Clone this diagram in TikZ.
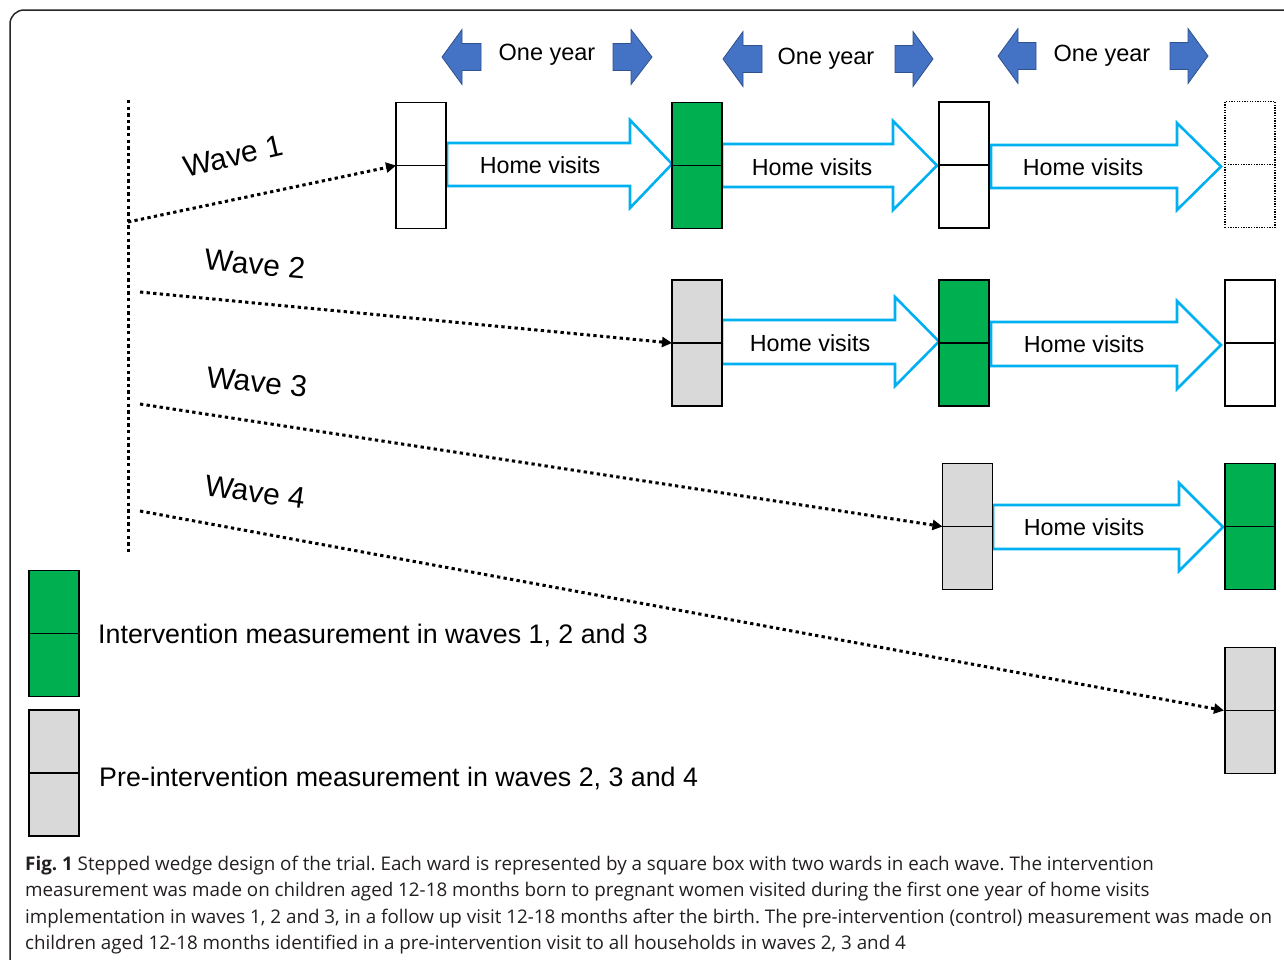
\documentclass[tikz,border=0pt]{standalone}
\usepackage{fontspec}
\setmainfont{Liberation Sans}
\newfontfamily\capfont{Open Sans}
\usetikzlibrary{arrows.meta}
\frenchspacing
\definecolor{grn}{HTML}{00B050}
\definecolor{gry}{HTML}{D9D9D9}
\definecolor{hvblue}{HTML}{00B0F0}
\definecolor{yrblue}{HTML}{4472C4}
\definecolor{yredge}{HTML}{2F528F}
\definecolor{captxt}{HTML}{231F20}
\newcommand\hvarr[7]{%
  \draw[hvstyle] (#1,#4) -- (#2,#4) -- (#2,#6) -- (#3,{(#6+#7)/2}) -- (#2,#7) -- (#2,#5) -- (#1,#5) -- cycle;}
\newcommand\yrleft[4]{%
  \draw[yrstyle] (#1,#4) -- (#2,#4-27.5) -- (#2,#4-13.5) -- (#3,#4-13.5) -- (#3,#4+13.5) -- (#2,#4+13.5) -- (#2,#4+27.5) -- cycle;}
\newcommand\yrright[4]{%
  \draw[yrstyle] (#1,#4) -- (#2,#4-27.5) -- (#2,#4-13.5) -- (#3,#4-13.5) -- (#3,#4+13.5) -- (#2,#4+13.5) -- (#2,#4+27.5) -- cycle;}
\begin{document}
\begin{tikzpicture}[x=1pt,y=-1pt,
  wbox/.style={draw=black, line width=1.3pt, minimum width=50pt, minimum height=126pt, inner sep=0pt, outer sep=0pt},
  dbox/.style={draw=black, line width=1.3pt, dash pattern=on 1.3pt off 1.3pt, minimum width=50pt, minimum height=126pt, inner sep=0pt, outer sep=0pt},
  hvstyle/.style={draw=hvblue, line width=2.6pt, fill=white, line join=miter},
  yrstyle/.style={draw=yredge, line width=0.8pt, fill=yrblue},
  hvtext/.style={font=\fontsize{23.3}{27}\selectfont, inner sep=0pt},
  yrtext/.style={font=\fontsize{23.5}{27}\selectfont, inner sep=0pt},
  wavetext/.style={font=\fontsize{30}{34}\selectfont, inner sep=0pt},
  legtext/.style={font=\fontsize{26.8}{30}\selectfont, inner sep=0pt, anchor=west},
  dotline/.style={line width=3pt, dash pattern=on 3.3pt off 3.3pt},
  dotarrow/.style={line width=3pt, dash pattern=on 3.3pt off 3.3pt, -{Triangle[length=10pt,width=10pt]}},
  captext/.style={font=\capfont\fontsize{18.8}{26}\selectfont, text=captxt, inner sep=0pt, anchor=base west}
]
\useasboundingbox (0,0) rectangle (1284,959);
\fill[white] (0,0) rectangle (1284,959);
% frame
\draw[line width=1.5pt, rounded corners=14pt, black!85] (1300,10) -- (10,10) -- (10,975);

% One year arrows
\yrleft{442}{462}{481}{57}
\yrright{652}{631}{613}{57}
\node[yrtext] (oy1) at (547,55) {One year};
\yrleft{723}{743}{762}{59}
\yrright{933}{913}{895}{59}
\node[yrtext] (oy2) at (826,59) {One year};
\yrleft{998}{1018}{1036}{56}
\yrright{1208}{1188}{1170}{56}
\node[yrtext] (oy3) at (1102,56) {One year};

% Home visits arrows (drawn first so boxes overlap)
\hvarr{447}{630}{672}{143}{186}{120}{208}
\node[hvtext] (hv1) at (540,165) {Home visits};
\hvarr{722}{893}{937}{144}{187}{121}{210}
\node[hvtext] (hv2) at (812,167) {Home visits};
\hvarr{991}{1177}{1221}{145}{188}{123}{210}
\node[hvtext] (hv3) at (1083,167) {Home visits};
\hvarr{722}{895}{939}{320}{364}{297}{386}
\node[hvtext] (hv4) at (810,343) {Home visits};
\hvarr{991}{1177}{1221}{322}{366}{301}{389}
\node[hvtext] (hv5) at (1084,344) {Home visits};
\hvarr{993}{1179}{1223}{505}{549}{483}{571}
\node[hvtext] (hv6) at (1084,527) {Home visits};

% boxes
\node[wbox, fill=white] (a1) at (421,165.5) {};
\node[wbox, fill=grn] (b1) at (697,165.5) {};
\node[wbox, fill=white] (c1) at (964,165) {};
\node[dbox] (d1) at (1250,164.5) {};
\node[wbox, fill=gry] (b2) at (697,343) {};
\node[wbox, fill=grn] (c2) at (964,343) {};
\node[wbox, fill=white] (d2) at (1250,343) {};
\node[wbox, fill=gry] (c3) at (967.5,526.5) {};
\node[wbox, fill=grn] (d3) at (1250,526.5) {};
\node[wbox, fill=gry] (d4) at (1250,710.5) {};
\node[wbox, fill=grn] (lg) at (54,633.5) {};
\node[wbox, fill=gry] (lp) at (54,773) {};
\foreach \n in {a1,b1,c1,b2,c2,d2,c3,d3,d4,lg,lp}{
  \draw[line width=1.3pt] (\n.west) -- (\n.east);
}
\draw[line width=1.3pt, dash pattern=on 1.3pt off 1.3pt] (d1.west) -- (d1.east);

% wave lines
\coordinate (vt) at (128,100);
\coordinate (vb) at (128,553);
\draw[dotline] (vt) -- (vb);
\coordinate (w1s) at (128,222);
\coordinate (w2s) at (140,292);
\coordinate (w3s) at (140,404);
\coordinate (w4s) at (140,511);
\draw[dotarrow] (w1s) -- (a1.west);
\draw[dotarrow] (w2s) -- (b2.west);
\draw[dotarrow] (w3s) -- (c3.west);
\draw[dotarrow] (w4s) -- ([xshift=-1pt]d4.west);

\node[wavetext, rotate=13] (wl1) at (233,156) {Wave 1};
\node[wavetext, rotate=-5] (wl2) at (255,264) {Wave 2};
\node[wavetext, rotate=-6] (wl3) at (257,382) {Wave 3};
\node[wavetext, rotate=-8] (wl4) at (255,492) {Wave 4};

% legend text
\node[legtext] (lt1) at (98,635) {Intervention measurement in waves 1, 2 and 3};
\node[legtext] (lt2) at (99,778) {Pre-intervention measurement in waves 2, 3 and 4};

% caption
\node[captext] (c1l) at (25,870) {\textbf{Fig. 1} Stepped wedge design of the trial. Each ward is represented by a square box with two wards in each wave. The intervention};
\node[captext] (c2l) at (25,896) {measurement was made on children aged 12-18 months born to pregnant women visited during the first one year of home visits};
\node[captext] (c3l) at (25,923) {implementation in waves 1, 2 and 3, in a follow up visit 12-18 months after the birth. The pre-intervention (control) measurement was made on};
\node[captext] (c4l) at (25,949) {children aged 12-18 months identified in a pre-intervention visit to all households in waves 2, 3 and 4};
\end{tikzpicture}
\end{document}
